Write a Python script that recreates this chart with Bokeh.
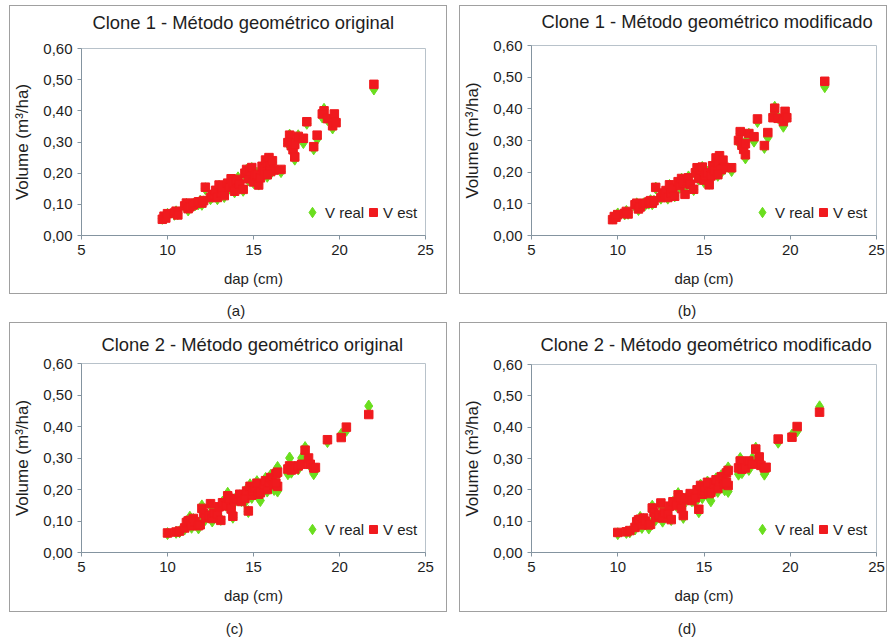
from bokeh.plotting import figure
from bokeh.layouts import column, row
from bokeh.models import Div, FixedTicker, Range1d, Title, Legend, LegendItem
from bokeh.embed import file_html
from bokeh.resources import INLINE

# ---------------- data ----------------
titles = ["Clone 1 - Método geométrico original",
          "Clone 1 - Método geométrico modificado",
          "Clone 2 - Método geométrico original",
          "Clone 2 - Método geométrico modificado"]
captions = ["(a)", "(b)", "(c)", "(d)"]
x_label = "dap (cm)"
y_label = "Volume (m³/ha)"
series_names = ["V real", "V est"]
x_ticks = [5, 10, 15, 20, 25]
y_ticks = [0.0, 0.1, 0.2, 0.3, 0.4, 0.5, 0.6]
y_tick_labels = ["0,00", "0,10", "0,20", "0,30", "0,40", "0,50", "0,60"]

# Clone 1
dap1 = [9.7, 9.8, 9.9, 10.0, 10.4, 10.5, 10.6, 11.0, 11.1, 11.2,
        11.3, 11.5, 11.6, 11.8, 11.9, 12.0, 12.1, 12.2, 12.5, 12.6,
        12.7, 12.8, 12.9, 13.0, 13.1, 13.2, 13.3, 13.5, 13.6, 13.7,
        13.8, 13.9, 14.0, 14.1, 14.2, 14.4, 14.5, 14.6, 14.7, 14.8,
        14.9, 15.0, 15.1, 15.2, 15.3, 15.4, 15.5, 15.6, 15.7, 15.8,
        15.9, 16.0, 16.1, 16.2, 16.0, 15.8, 16.6, 17.1, 17.0, 17.2,
        17.3, 17.4, 17.4, 17.6, 17.9, 18.1, 18.5, 18.7, 19.1, 19.0,
        19.3, 19.6, 19.7, 19.8, 22.0]
vreal1 = [0.055, 0.060, 0.058, 0.068, 0.068, 0.076, 0.070, 0.092, 0.100, 0.082,
          0.095, 0.100, 0.098, 0.102, 0.110, 0.100, 0.108, 0.150, 0.118, 0.125,
          0.135, 0.140, 0.118, 0.158, 0.130, 0.145, 0.125, 0.165, 0.152, 0.178,
          0.160, 0.140, 0.170, 0.185, 0.160, 0.145, 0.195, 0.210, 0.178, 0.200,
          0.215, 0.170, 0.188, 0.200, 0.165, 0.180, 0.215, 0.205, 0.238, 0.225,
          0.245, 0.218, 0.235, 0.212, 0.200, 0.190, 0.205, 0.322, 0.295, 0.285,
          0.270, 0.245, 0.295, 0.320, 0.298, 0.360, 0.278, 0.310, 0.405, 0.380,
          0.372, 0.345, 0.378, 0.370, 0.470]
vest1_orig = [0.052, 0.062, 0.056, 0.070, 0.072, 0.078, 0.066, 0.095, 0.104, 0.086,
              0.092, 0.098, 0.104, 0.108, 0.107, 0.104, 0.112, 0.155, 0.122, 0.128,
              0.132, 0.145, 0.122, 0.162, 0.136, 0.150, 0.128, 0.168, 0.155, 0.182,
              0.166, 0.142, 0.175, 0.180, 0.165, 0.148, 0.200, 0.212, 0.182, 0.205,
              0.218, 0.172, 0.192, 0.196, 0.162, 0.185, 0.222, 0.208, 0.242, 0.232,
              0.250, 0.222, 0.240, 0.210, 0.205, 0.195, 0.212, 0.322, 0.298, 0.288,
              0.275, 0.252, 0.292, 0.318, 0.312, 0.365, 0.285, 0.322, 0.400, 0.390,
              0.375, 0.352, 0.390, 0.362, 0.485]
vest1_mod = [0.050, 0.060, 0.058, 0.066, 0.070, 0.076, 0.068, 0.097, 0.102, 0.084,
             0.090, 0.100, 0.102, 0.106, 0.110, 0.102, 0.110, 0.152, 0.120, 0.130,
             0.134, 0.142, 0.120, 0.160, 0.134, 0.148, 0.124, 0.170, 0.158, 0.180,
             0.164, 0.130, 0.172, 0.182, 0.162, 0.146, 0.198, 0.214, 0.180, 0.208,
             0.216, 0.175, 0.190, 0.198, 0.160, 0.188, 0.220, 0.206, 0.245, 0.230,
             0.252, 0.225, 0.238, 0.215, 0.208, 0.192, 0.214, 0.328, 0.300, 0.285,
             0.272, 0.255, 0.290, 0.322, 0.312, 0.368, 0.284, 0.325, 0.402, 0.372,
             0.370, 0.360, 0.392, 0.372, 0.487]

# Clone 2
dap2 = [10.0, 10.5, 10.7, 11.0, 11.1, 11.2, 11.3, 11.4, 11.5, 11.6,
        11.8, 11.9, 12.0, 12.1, 12.2, 12.4, 12.5, 12.6, 12.7, 12.9,
        13.0, 13.1, 13.2, 13.4, 13.5, 13.6, 13.7, 13.8, 13.9, 14.0,
        14.2, 14.3, 14.5, 14.6, 14.7, 14.8, 14.9, 15.0, 15.1, 15.2,
        15.3, 15.4, 15.6, 15.7, 15.8, 15.9, 16.0, 16.1, 16.2, 16.3,
        16.4, 16.4, 16.3, 17.1, 17.0, 17.2, 17.4, 17.6, 17.8, 18.0,
        18.2, 18.3, 18.5, 18.6, 19.3, 20.1, 20.4, 21.7]
vreal2 = [0.060, 0.064, 0.066, 0.075, 0.085, 0.095, 0.112, 0.080, 0.105, 0.095,
          0.078, 0.092, 0.148, 0.120, 0.105, 0.115, 0.150, 0.100, 0.130, 0.118,
          0.140, 0.105, 0.160, 0.150, 0.188, 0.168, 0.140, 0.112, 0.160, 0.175,
          0.180, 0.165, 0.160, 0.200, 0.130, 0.215, 0.175, 0.190, 0.200, 0.225,
          0.175, 0.165, 0.210, 0.235, 0.195, 0.215, 0.245, 0.225, 0.200, 0.260,
          0.270, 0.195, 0.230, 0.300, 0.250, 0.255, 0.270, 0.265, 0.300, 0.333,
          0.290, 0.275, 0.250, 0.260, 0.352, 0.375, 0.388, 0.465]
vest2_orig = [0.062, 0.065, 0.068, 0.078, 0.095, 0.100, 0.102, 0.085, 0.108, 0.098,
              0.085, 0.088, 0.140, 0.125, 0.110, 0.118, 0.155, 0.108, 0.125, 0.122,
              0.145, 0.102, 0.158, 0.148, 0.180, 0.172, 0.138, 0.115, 0.165, 0.170,
              0.185, 0.162, 0.172, 0.195, 0.132, 0.210, 0.182, 0.195, 0.205, 0.220,
              0.185, 0.190, 0.215, 0.228, 0.200, 0.222, 0.238, 0.232, 0.215, 0.250,
              0.255, 0.210, 0.220, 0.275, 0.265, 0.262, 0.265, 0.275, 0.280, 0.325,
              0.300, 0.280, 0.268, 0.270, 0.358, 0.365, 0.398, 0.438]
vest2_mod = [0.064, 0.066, 0.070, 0.080, 0.098, 0.104, 0.106, 0.088, 0.110, 0.100,
             0.088, 0.090, 0.142, 0.128, 0.112, 0.120, 0.158, 0.110, 0.128, 0.124,
             0.148, 0.105, 0.162, 0.150, 0.184, 0.175, 0.140, 0.118, 0.168, 0.174,
             0.188, 0.166, 0.175, 0.200, 0.138, 0.214, 0.186, 0.198, 0.208, 0.224,
             0.188, 0.192, 0.218, 0.232, 0.204, 0.226, 0.242, 0.236, 0.218, 0.254,
             0.262, 0.214, 0.224, 0.292, 0.270, 0.266, 0.270, 0.292, 0.282, 0.330,
             0.305, 0.278, 0.270, 0.272, 0.362, 0.368, 0.402, 0.448]

# ---------------- style ----------------
FONT = "Liberation Sans"
GREEN = "#6ade1e"
RED = "#f01a1e"
TEXT = "#1e1e1e"
AXIS = "#8494a0"


def make_panel(title, dap, vreal, vest, width, height, left, right, top, bottom,
               title_offset, gap):
    p = figure(width=width, height=height,
               x_range=Range1d(5, 25), y_range=Range1d(0, 0.6),
               output_backend="svg", toolbar_location=None,
               min_border_left=left, min_border_right=right,
               min_border_top=top, min_border_bottom=bottom,
               margin=0, styles={"border": "1px solid #a0a0a0"})
    p.title.text = ""
    # empty spacer between frame and title text
    p.add_layout(Title(text=" ", text_font_size="1px", standoff=gap), "above")
    p.add_layout(Title(text=title, align="left", offset=title_offset, standoff=0,
                       text_font=FONT, text_font_size="18.4px",
                       text_font_style="normal", text_color=TEXT), "above")

    p.grid.visible = False
    p.outline_line_color = "#b8c2ca"
    p.background_fill_color = "white"

    p.xaxis.ticker = FixedTicker(ticks=x_ticks)
    p.yaxis.ticker = FixedTicker(ticks=y_ticks)
    p.yaxis.major_label_overrides = dict(zip(y_ticks, y_tick_labels))
    p.yaxis.major_label_text_baseline = "bottom"
    p.xaxis.axis_label = x_label
    p.yaxis.axis_label = y_label
    for ax in (p.xaxis[0], p.yaxis[0]):
        ax.axis_line_color = AXIS
        ax.major_tick_line_color = AXIS
        ax.minor_tick_line_color = None
        ax.major_tick_out = 4
        ax.major_tick_in = 0
        ax.major_label_text_font = FONT
        ax.major_label_text_font_size = "15px"
        ax.major_label_text_color = TEXT
        ax.axis_label_text_font = FONT
        ax.axis_label_text_font_style = "normal"
        ax.axis_label_text_color = TEXT
    p.xaxis.axis_label_text_font_size = "15px"
    p.yaxis.axis_label_text_font_size = "17px"
    p.xaxis.axis_label_standoff = 12
    p.yaxis.axis_label_standoff = 8

    green = p.scatter(dap, vreal, marker="diamond", size=12,
                      fill_color=GREEN, line_color=GREEN)
    red = p.scatter(dap, vest, marker="square", size=8.5,
                    fill_color=RED, line_color=RED)

    common = dict(orientation="horizontal", background_fill_alpha=0,
                  border_line_alpha=0, padding=0, margin=0, spacing=0,
                  label_standoff=0, label_text_font=FONT,
                  label_text_font_size="15px", label_text_color=TEXT)
    leg1 = Legend(items=[LegendItem(label=series_names[0], renderers=[green])],
                  location=(218, 10), glyph_width=26, glyph_height=26,
                  label_height=26, **common)
    leg2 = Legend(items=[LegendItem(label=series_names[1], renderers=[red])],
                  location=(282, 13), glyph_width=20, glyph_height=20,
                  label_height=20, **common)
    p.add_layout(leg1)
    p.add_layout(leg2)
    return p


def caption(text, width, height, pad_left, pad_top, line):
    return Div(text=f'<div style="width:{width}px;box-sizing:border-box;'
                    f'text-align:center;padding-left:{pad_left}px;'
                    f'padding-top:{pad_top}px;'
                    f'font-family:{FONT};font-size:15px;color:{TEXT};'
                    f'line-height:{line}px">{text}</div>',
               width=width, height=height, margin=0)


pa = make_panel(titles[0], dap1, vreal1, vest1_orig, 438, 289, 69, 23, 42, 60, 11, 13)
pb = make_panel(titles[1], dap1, vreal1, vest1_mod, 428, 289, 71, 12, 39, 60, 10, 11)
pc = make_panel(titles[2], dap2, vreal2, vest2_orig, 438, 290, 69, 23, 40, 61, 20, 6)
pd = make_panel(titles[3], dap2, vreal2, vest2_mod, 428, 290, 71, 12, 41, 61, 9, 7)

ca = column(pa, caption(captions[0], 440, 26, 14, 8, 18), spacing=0)
cb = column(pb, caption(captions[1], 430, 26, 26, 8, 18), spacing=0)
cc = column(pc, caption(captions[2], 440, 25, 11, 9, 16), spacing=0)
cd = column(pd, caption(captions[3], 430, 25, 26, 9, 16), spacing=0)

row1 = row(ca, cb, spacing=10)
row2 = row(cc, cd, spacing=10, margin=(2, 0, 0, 0))
layout = column(row1, row2, spacing=0, margin=(5, 0, 0, 9))

open("out.html", "w").write(file_html(layout, INLINE))
